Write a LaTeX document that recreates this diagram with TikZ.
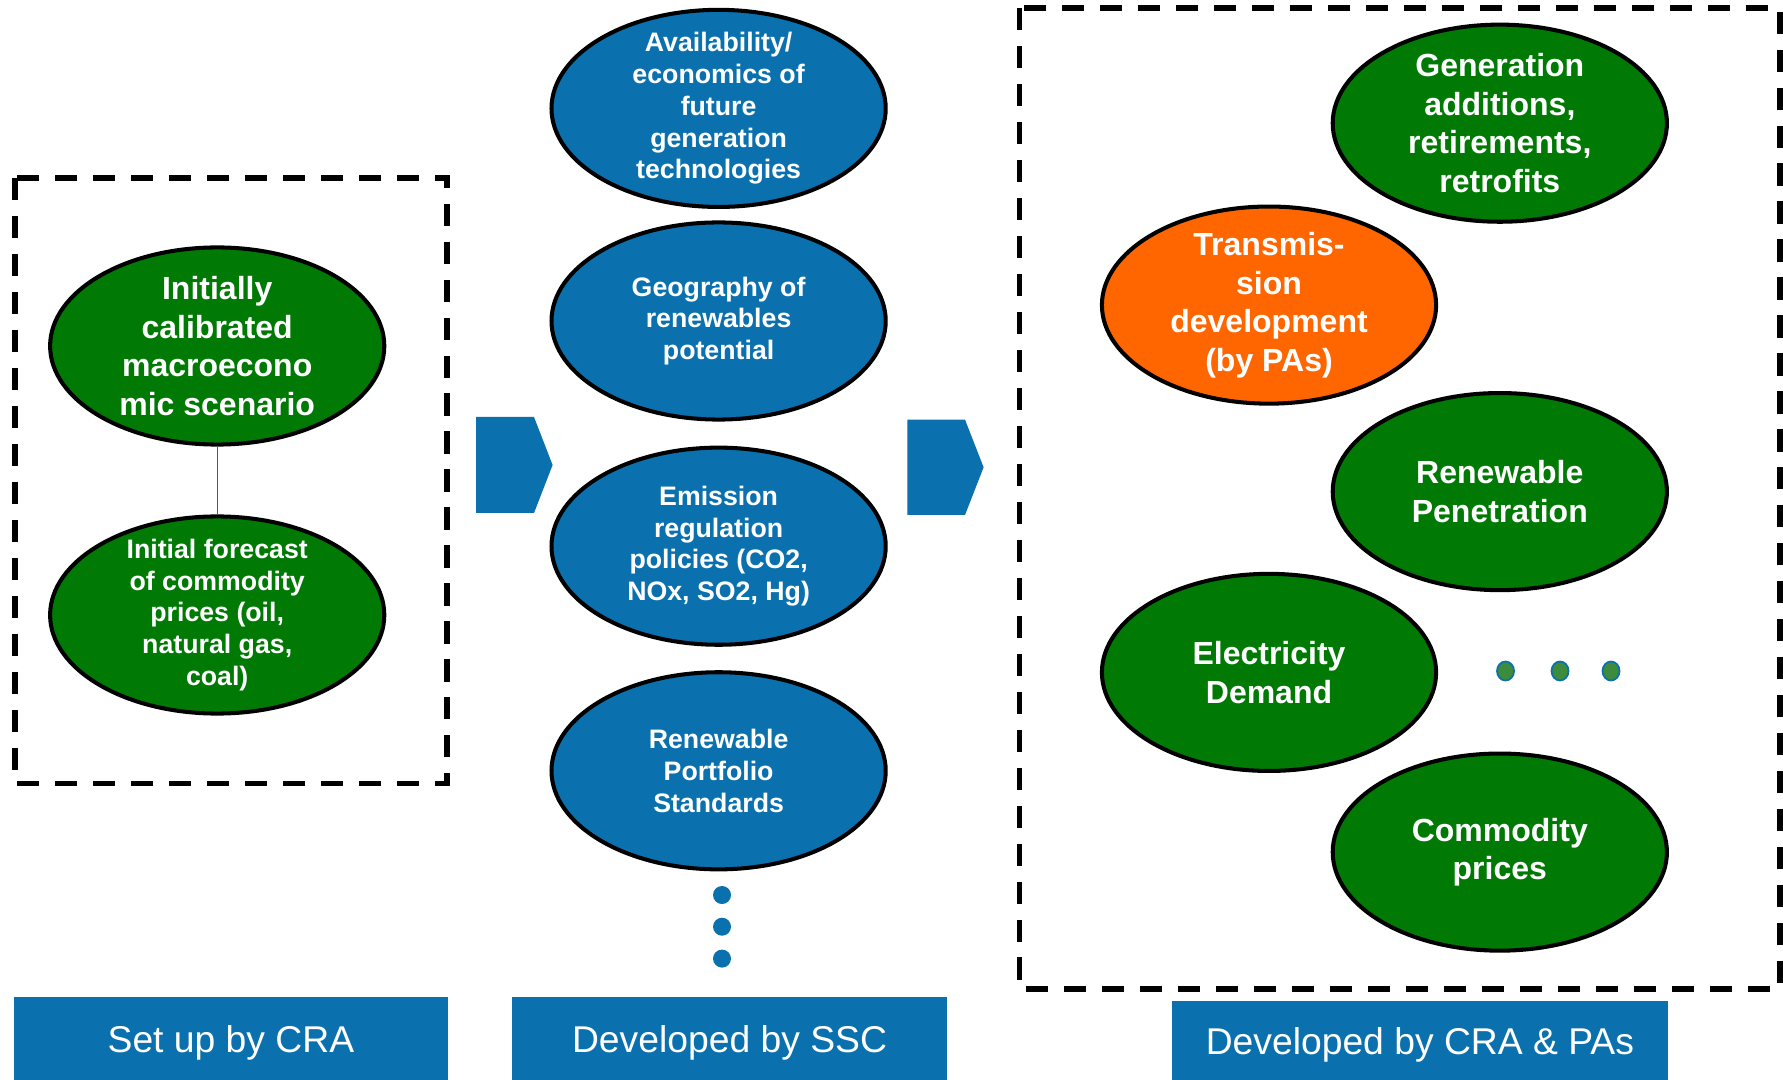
\documentclass[tikz,border=0pt]{standalone}
\usepackage{fontspec}
\setmainfont{Liberation Sans}
\usepackage{xcolor}
\definecolor{EllGreen}{RGB}{0,122,4}
\definecolor{EllBlue}{RGB}{10,113,174}
\definecolor{EllOrange}{RGB}{255,102,0}
\definecolor{DotGreen}{RGB}{61,139,61}
\usetikzlibrary{shapes, shapes.geometric, positioning}
\tikzset{
  % Generic ellipse
  oval/.style={
    ellipse, draw=black, line width=1.15pt,
    minimum width=3.34cm, minimum height=1.97cm,
    inner xsep=0pt, inner ysep=-3pt,
    align=center, text=white,
    font=\fontsize{9.1}{11}\selectfont\bfseries
  },
  % Colored ellipse variants
  oval green/.style={oval, fill=EllGreen},
  oval orange/.style={oval, fill=EllOrange},
  oval blue/.style={oval, fill=EllBlue, font=\fontsize{7.6}{9.05}\selectfont\bfseries},
  oval small/.style={font=\fontsize{7.6}{9.05}\selectfont\bfseries},
  % Dashed frame
  dashframe/.style={draw=black, line width=1.55pt, dash pattern=on 6.3pt off 4.5pt},
  % Chevron
  chev/.style={fill=EllBlue},
  % Footer label
  tagbox/.style={
    rectangle, fill=EllBlue, text=white, anchor=north west,
    inner sep=0pt, text depth=0pt, font=\fontsize{10.6}{12}\selectfont
  },
  % Ellipsis dots
  dotmid/.style={circle, fill=EllBlue, minimum size=0.18cm, inner sep=0pt},
  dotright/.style={
    ellipse, fill=DotGreen, draw=EllBlue, line width=0.5pt,
    minimum width=0.17cm, minimum height=0.19cm, inner sep=0pt
  },
}

\begin{document}
\begin{tikzpicture}[x=0.01cm, y=-0.01cm]
  \useasboundingbox (0,0) rectangle (1783,1080);

  %% Set up by CRA
  \draw[dashframe] (15,178) rectangle (446.9,783.5);
  \node[oval green] (macro) at (217.2,346)
    {Initially\\calibrated\\macroecono\\mic scenario};
  \node[oval green, oval small] (prices) at (217.2,615)
    {Initial forecast\\of commodity\\prices (oil,\\natural gas,\\coal)};
  \draw[EllBlue, line width=0.4pt] (macro) -- (prices);

  %% Chevrons
  \fill[chev] (476,417) -- (534,417) -- (552.6,465) -- (534,513) -- (476,513) -- cycle;
  \fill[chev] (907.4,419.6) -- (965,419.6) -- (983.6,467.3) -- (965,515) -- (907.4,515) -- cycle;

  %% Developed by SSC
  \node[oval blue] (avail) at (718.6,108.4)
    {Availability/\\economics of\\future\\generation\\technologies};
  \node[oval blue] (geo) at (718.6,321)
    {Geography of\\renewables\\potential};
  \node[oval blue] (emis) at (718.6,546.2)
    {Emission\\regulation\\policies (CO2,\\NOx, SO2, Hg)};
  \node[oval blue] (rps) at (718.6,770.8)
    {Renewable\\Portfolio\\Standards};
  \foreach \i/\y in {1/895,2/926.7,3/958.6}
    \node[dotmid] (vdot\i) at (722,\y) {};

  %% Developed by CRA & PAs
  \draw[dashframe] (1019.7,8) rectangle (1780,989);
  \node[oval green] (gen) at (1499.8,123.2)
    {Generation\\additions,\\retirements,\\retrofits};
  \node[oval orange] (trans) at (1269,305.1)
    {Transmis-\\sion\\development\\(by PAs)};
  \node[oval green] (renew) at (1499.8,491.6)
    {Renewable\\Penetration};
  \node[oval green] (demand) at (1269,672.4)
    {Electricity\\Demand};
  \node[oval green] (comm) at (1499.8,852.1)
    {Commodity\\prices};
  \foreach \i/\x in {1/1505.5,2/1560,3/1611}
    \node[dotright] (hdot\i) at (\x,671) {};

  %% Footer labels
  \node[tagbox, minimum width=4.33cm, minimum height=0.84cm] (tagCRA) at (13.6,996) {Set up by CRA};
  \node[tagbox, minimum width=4.34cm, minimum height=0.84cm] (tagSSC) at (511.7,996) {Developed by SSC};
  \node[tagbox, minimum width=4.96cm, minimum height=0.80cm] (tagPA) at (1171,1000.6) {Developed by CRA \& PAs};

\end{tikzpicture}
\end{document}
